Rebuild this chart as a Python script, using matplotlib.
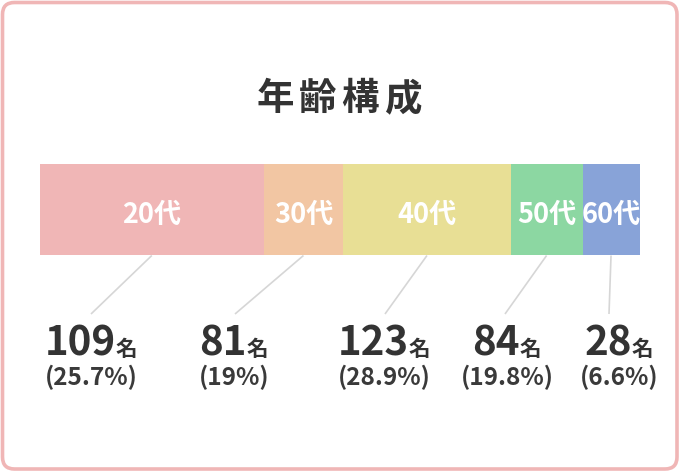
import matplotlib
matplotlib.use("Agg")
import matplotlib.pyplot as plt
from matplotlib.patches import FancyBboxPatch

plt.rcParams['font.family'] = ['Noto Sans CJK JP', 'DejaVu Sans']

# ---- data ----
title = "年齢構成"
categories = ["20代", "30代", "40代", "50代", "60代"]
counts = [109, 81, 123, 84, 28]
percent_labels = ["25.7%", "19%", "28.9%", "19.8%", "6.6%"]
# visual share of each bar segment, as drawn in the reference
bar_share = [37.3, 13.3, 27.9, 12.0, 9.5]
colors = ["#F0B6B6", "#F2C6A3", "#E8DF95", "#8CD7A2", "#88A3D8"]

# ---- layout ----
W, H = 680, 472
fig = plt.figure(figsize=(W / 100, H / 100), dpi=100)
fig.patch.set_facecolor("white")

ov = fig.add_axes([0, 0, 1, 1], zorder=2)
ov.set_xlim(0, W)
ov.set_ylim(H, 0)
ov.axis("off")
ov.patch.set_alpha(0)
renderer = fig.canvas.get_renderer()

# border
border = FancyBboxPatch((2.5, 2.5), W - 5.5, H - 5.5,
                        boxstyle="round,pad=0,rounding_size=12",
                        fc="none", ec="#F0B6B6", lw=2.6)
ov.add_patch(border)


def spaced_text(ax, cx, y, s, spacing, **kw):
    """Draw string s char by char with extra spacing (pixels), centered at cx."""
    items = []
    widths = []
    for ch in s:
        t = ax.text(0, y, ch, ha="left", **kw)
        items.append(t)
        widths.append(t.get_window_extent(renderer).width)
    total_w = sum(widths) + spacing * (len(s) - 1)
    x = cx - total_w / 2
    for t, w in zip(items, widths):
        t.set_x(x)
        x += w + spacing


# title
spaced_text(ov, 339, 110, title, 5, va="baseline", fontsize=27,
            fontweight="bold", color="#333333")

# bar axes
bx0, bx1, by0, by1 = 40, 639.5, 164.5, 255.5
bar_ax = fig.add_axes([bx0 / W, 1 - by1 / H, (bx1 - bx0) / W, (by1 - by0) / H], zorder=1)
total = sum(bar_share)
bar_ax.set_xlim(0, total)
bar_ax.set_ylim(-0.5, 0.5)
bar_ax.axis("off")
lefts = []
acc = 0
for s in bar_share:
    lefts.append(acc)
    acc += s
bar_ax.barh([0] * len(bar_share), bar_share, left=lefts, height=1.0,
            color=colors, edgecolor="none")
for cat, l, s in zip(categories, lefts, bar_share):
    bar_ax.text(l + s / 2, -0.143, cat, ha="center", va="baseline", fontsize=19.5,
                fontweight="bold", color="white")

# leader lines and labels
to_ov = ov.transData.inverted()
label_x = [91, 234, 384, 507, 619]
line_bottom_x = [91, 235, 385, 505, 609]
line_bottom_y = 314
for i, (l, s) in enumerate(zip(lefts, bar_share)):
    disp = bar_ax.transData.transform((l + s / 2, -0.5))
    x_top, y_top = to_ov.transform(disp)
    ov.plot([x_top, line_bottom_x[i]], [y_top, line_bottom_y], color="#D6D6D6",
            lw=1.2, solid_capstyle="butt")

    # count + 名, centered as a group
    t1 = ov.text(0, 356, str(counts[i]), ha="left", va="baseline",
                 fontsize=29, fontweight="bold", color="#333333")
    t2 = ov.text(0, 356, "名", ha="left", va="baseline",
                 fontsize=15.5, fontweight="bold", color="#333333")
    w1 = t1.get_window_extent(renderer).width
    w2 = t2.get_window_extent(renderer).width
    start = label_x[i] - (w1 + w2) / 2
    t1.set_x(start)
    t2.set_x(start + w1)

    ov.text(label_x[i], 385, "(" + percent_labels[i] + ")", ha="center",
            va="baseline", fontsize=17.5, fontweight="bold", color="#3a3a3a")

fig.savefig("out.png", dpi=100, facecolor="white")
